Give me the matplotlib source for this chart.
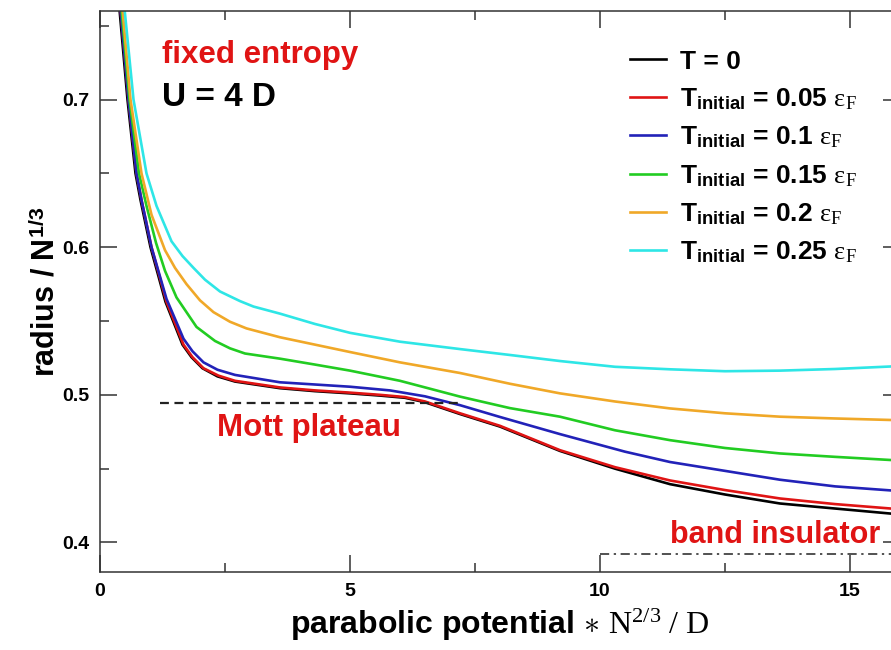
import matplotlib
matplotlib.use('Agg')
import matplotlib.pyplot as plt

plt.rcParams['font.family'] = ['Liberation Sans', 'DejaVu Sans']
plt.rcParams['font.weight'] = 'bold'
plt.rcParams['mathtext.fontset'] = 'custom'
plt.rcParams['mathtext.rm'] = 'Liberation Serif:regular'
plt.rcParams['mathtext.it'] = 'Liberation Serif:italic:regular'
plt.rcParams['mathtext.bf'] = 'Liberation Sans:bold'

# curves: radius / N^(1/3) vs parabolic potential * N^(2/3) / D
x_t0 = [0.38, 0.55, 0.71, 0.81, 1.01, 1.31, 1.65, 1.83, 2.05, 2.35, 2.7, 3.6, 4.3, 5.0, 5.6, 6.1, 6.5, 7.2, 8.0, 9.2, 10.3, 11.4, 12.5, 13.6, 14.7, 16.0]
y_t0 = [0.765, 0.70, 0.65, 0.632, 0.60, 0.563, 0.534, 0.5255, 0.518, 0.5125, 0.509, 0.5045, 0.5025, 0.501, 0.4995, 0.498, 0.495, 0.487, 0.4785, 0.462, 0.450, 0.4395, 0.4325, 0.4264, 0.423, 0.419]

x_005 = [0.40, 0.57, 0.73, 0.83, 1.03, 1.33, 1.67, 1.85, 2.07, 2.37, 2.7, 3.6, 4.3, 5.0, 5.6, 6.1, 6.5, 7.2, 8.0, 9.2, 10.3, 11.4, 12.5, 13.6, 14.7, 16.0]
y_005 = [0.765, 0.70, 0.65, 0.632, 0.60, 0.563, 0.534, 0.5255, 0.518, 0.513, 0.5095, 0.505, 0.503, 0.5015, 0.500, 0.4985, 0.4955, 0.4875, 0.479, 0.4625, 0.451, 0.442, 0.4355, 0.4298, 0.426, 0.4225]

x_01 = [0.40, 0.57, 0.73, 0.83, 1.03, 1.33, 1.67, 1.85, 2.07, 2.35, 2.7, 3.6, 4.3, 5.0, 5.8, 6.5, 7.2, 8.0, 9.2, 10.5, 11.4, 12.5, 13.6, 14.7, 16.0]
y_01 = [0.765, 0.70, 0.65, 0.632, 0.60, 0.565, 0.538, 0.5295, 0.522, 0.517, 0.5135, 0.5085, 0.507, 0.5055, 0.503, 0.499, 0.493, 0.485, 0.4734, 0.4615, 0.4545, 0.4485, 0.4425, 0.438, 0.4348]

x_015 = [0.42, 0.59, 0.78, 0.93, 1.12, 1.3, 1.53, 1.93, 2.3, 2.6, 2.9, 3.6, 4.3, 5.0, 6.0, 7.2, 8.2, 9.2, 10.3, 11.4, 12.5, 13.6, 14.7, 16.0]
y_015 = [0.765, 0.70, 0.65, 0.628, 0.603, 0.584, 0.566, 0.546, 0.5365, 0.5315, 0.528, 0.5245, 0.5205, 0.5164, 0.5095, 0.4988, 0.491, 0.4852, 0.476, 0.4693, 0.464, 0.4603, 0.458, 0.4555]

x_02 = [0.44, 0.61, 0.83, 1.03, 1.3, 1.5, 1.73, 2.0, 2.27, 2.6, 2.93, 3.6, 4.3, 5.0, 6.0, 7.2, 8.2, 9.2, 10.3, 11.4, 12.5, 13.6, 14.7, 16.0]
y_02 = [0.765, 0.70, 0.65, 0.622, 0.598, 0.586, 0.575, 0.564, 0.556, 0.5495, 0.545, 0.539, 0.534, 0.529, 0.522, 0.5148, 0.5075, 0.501, 0.4955, 0.4908, 0.4875, 0.4852, 0.484, 0.4828]

x_025 = [0.48, 0.67, 0.93, 1.13, 1.43, 1.65, 1.87, 2.1, 2.4, 2.8, 3.07, 3.6, 4.3, 5.0, 6.0, 7.2, 8.2, 9.2, 10.3, 11.4, 12.5, 13.6, 14.7, 16.0]
y_025 = [0.765, 0.70, 0.65, 0.628, 0.604, 0.594, 0.586, 0.578, 0.570, 0.5635, 0.5598, 0.555, 0.548, 0.542, 0.536, 0.531, 0.527, 0.5229, 0.519, 0.5173, 0.516, 0.5164, 0.5175, 0.5195]

labels = [r'T = 0',
          r'T$_{\mathbf{initial}}$ = 0.05 $\mathrm{\varepsilon_F}$',
          r'T$_{\mathbf{initial}}$ = 0.1 $\mathrm{\varepsilon_F}$',
          r'T$_{\mathbf{initial}}$ = 0.15 $\mathrm{\varepsilon_F}$',
          r'T$_{\mathbf{initial}}$ = 0.2 $\mathrm{\varepsilon_F}$',
          r'T$_{\mathbf{initial}}$ = 0.25 $\mathrm{\varepsilon_F}$']
colors = ['black', '#e01414', '#2222b8', '#22cc22', '#f0a828', '#2ee6e6']

mott_x = [1.2, 7.26]
mott_y = 0.4944
band_x = [10.0, 16.0]
band_y = 0.392

fig = plt.figure(figsize=(8.91, 6.5), dpi=100)
ax = fig.add_axes([100 / 891, 78 / 650, 800 / 891, 561 / 650])

series = [(x_t0, y_t0), (x_005, y_005), (x_01, y_01), (x_015, y_015), (x_02, y_02), (x_025, y_025)]
for (xs, ys), lab, c in zip(series, labels, colors):
    ax.plot(xs, ys, color=c, lw=1.9, label=lab)

ax.plot(mott_x, [mott_y, mott_y], color='#222222', lw=1.6, ls=(0, (4, 2.5)))
ax.plot(band_x, [band_y, band_y], color='#222222', lw=1.1, ls=(0, (6, 3, 1.5, 3)))

ax.set_xlim(0, 16)
ax.set_ylim(0.38, 0.76)
ax.set_xticks([0, 5, 10, 15])
ax.set_xticks([2.5, 7.5, 12.5], minor=True)
ax.set_yticks([0.4, 0.5, 0.6, 0.7])
ax.set_yticks([0.45, 0.55, 0.65, 0.75], minor=True)
ax.set_yticklabels(['0.4', '0.5', '0.6', '0.7'])
ax.tick_params(which='both', direction='in', top=True, right=True, width=1.1, color='#333333')
ax.tick_params(which='major', length=12, labelsize=14, pad=8)
ax.tick_params(which='minor', length=6.5)
for s in ax.spines.values():
    s.set_linewidth(1.1)
    s.set_color('#333333')

ax.set_xlabel(r'parabolic potential $\ast$ $\mathrm{N^{2/3}\ /\ D}$', fontsize=23,
              fontweight='bold', labelpad=5)
ax.set_ylabel(r'radius / N$^{\mathbf{1/3}}$', fontsize=22, fontweight='bold', labelpad=0.5)

ax.text(1.25, 0.725, 'fixed entropy', color='#e01414', fontsize=22.5)
ax.text(1.25, 0.6955, 'U = 4 D', color='black', fontsize=24)
ax.text(4.18, 0.4775, 'Mott plateau', color='#e01414', fontsize=22.5, ha='center', va='center')
ax.text(15.6, 0.405, 'band insulator', color='#e01414', fontsize=22, ha='right', va='center')

ax.legend(loc='upper left', bbox_to_anchor=(0.6625, 0.931), frameon=False, fontsize=19,
          handlelength=1.35, handletextpad=0.55, labelspacing=0.48, borderaxespad=0,
          borderpad=0)

fig.savefig('out.png', dpi=100)
